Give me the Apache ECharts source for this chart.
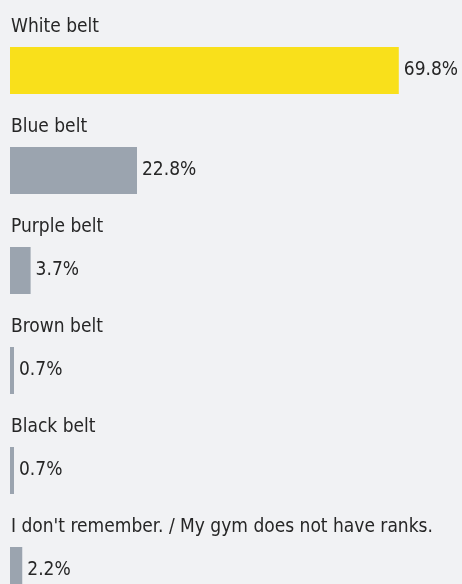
<!DOCTYPE html>
<html>
<head>
<meta charset="utf-8">
<script src="https://cdn.jsdelivr.net/npm/echarts@6/dist/echarts.min.js"></script>
<style>
  html, body { margin: 0; padding: 0; background: #f1f2f4; }
  #chart { width: 462px; height: 584px; }
</style>
</head>
<body>
<div id="chart"></div>
<script>
var categories = ['White belt', 'Blue belt', 'Purple belt', 'Brown belt', 'Black belt',
  "I don't remember. / My gym does not have ranks."];
var values = [69.8, 22.8, 3.7, 0.7, 0.7, 2.2];
var highlight = 0; // first bar is yellow

var font = '"DejaVu Sans Condensed", "Liberation Sans Narrow", sans-serif';

var chart = echarts.init(document.getElementById('chart'));

var barData = values.map(function(v, i) {
  return {
    value: v,
    itemStyle: { color: i === highlight ? '#f9e01b' : '#9ba4af' }
  };
});

chart.setOption({
  backgroundColor: '#f1f2f4',
  animation: false,
  grid: {
    left: 10,
    top: 20.5,
    width: 445.6,
    height: 600,
    outerBoundsMode: 'none',
    containLabel: false
  },
  xAxis: {
    type: 'value',
    min: 0,
    max: 80,
    show: false
  },
  yAxis: {
    type: 'category',
    inverse: true,
    data: categories,
    show: false
  },
  series: [
    {
      type: 'bar',
      barWidth: 47,
      barMinHeight: 4,
      data: barData,
      label: {
        show: true,
        position: 'right',
        distance: 5,
        formatter: function(p) { return p.value.toFixed(1) + '%'; },
        fontFamily: font,
        fontSize: 19,
        color: '#262626'
      }
    },
    {
      // transparent overlay, only carries the category name above each bar
      type: 'bar',
      barWidth: 47,
      barGap: '-100%',
      silent: true,
      data: values,
      itemStyle: { color: 'rgba(0,0,0,0)' },
      label: {
        show: true,
        position: [1, -29],
        formatter: '{b}',
        fontFamily: font,
        fontSize: 19,
        color: '#262626'
      }
    }
  ]
});
</script>
</body>
</html>
